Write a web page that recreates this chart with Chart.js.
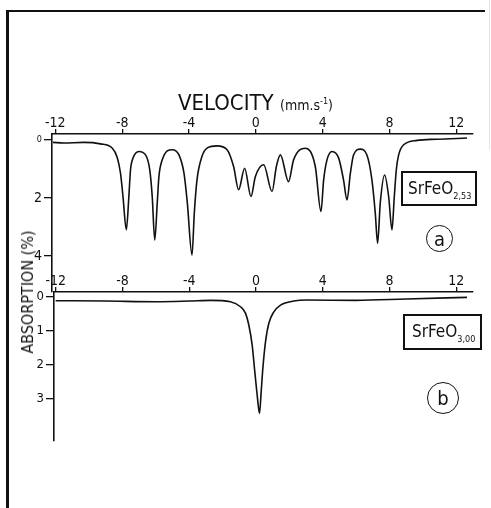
<!DOCTYPE html>
<html>
<head>
<meta charset="utf-8">
<script src="https://cdn.jsdelivr.net/npm/chart.js@4.4.1/dist/chart.umd.min.js"></script>
<style>
  body { margin: 0; background: #fff; }
  #page { position: relative; width: 491px; height: 508px; overflow: hidden; font-family: 'DejaVu Sans Condensed', 'DejaVu Sans', sans-serif; color: #111; }
  .abs { position: absolute; }
  #frame { left: 6px; top: 10px; width: 476px; height: 510px; border-left: 3px solid #111; border-top: 2.5px solid #111; }
  #edge { left: 489px; top: 0; width: 1px; height: 150px; background: #e4e4e4; }
  #xTitle { left: 178px; top: 86px; white-space: nowrap; font-size: 22px; line-height: 30px; }
  #xTitle small { font-size: 14px; }
  #xTitle sup { font-size: 9px; }
  #yTitle { left: 28px; top: 292px; transform: translate(-50%, -50%) rotate(-90deg); white-space: nowrap; font-size: 16px; line-height: 1; }
  .box { border: 2px solid #111; box-sizing: border-box; font-size: 17px; white-space: nowrap; line-height: 1; }
  .box span { position: absolute; left: 5px; top: 7px; }
  .box sub { font-size: 9px; vertical-align: -5px; line-height: 0; }
  .circle { border: 1.8px solid #111; border-radius: 50%; box-sizing: border-box; display: flex; align-items: center; justify-content: center; font-size: 20px; line-height: 1; }
</style>
</head>
<body>
<div id="page">
  <div id="frame" class="abs"></div>
  <div id="edge" class="abs"></div>
  <canvas id="chartA" class="abs" width="491" height="300" style="left:0;top:0"></canvas>
  <canvas id="chartB" class="abs" width="491" height="258" style="left:0;top:250px"></canvas>
  <div id="xTitle" class="abs">VELOCITY <small>(mm.s<sup>-1</sup>)</small></div>
  <div id="yTitle" class="abs">ABSORPTION (%)</div>
  <div class="abs box" style="left:401px;top:171px;width:76px;height:35px"><span>SrFeO<sub>2,53</sub></span></div>
  <div class="abs circle" style="left:426px;top:225px;width:27px;height:27px">a</div>
  <div class="abs box" style="left:403px;top:314px;width:79px;height:36px"><span style="left:7px">SrFeO<sub>3,00</sub></span></div>
  <div class="abs circle" style="left:427px;top:382px;width:32px;height:32px">b</div>
</div>
<script>
// velocity ticks shared by both spectra
const velocityTicks = [-12, -8, -4, 0, 4, 8, 12];
const absorptionTicksA = [0, 2, 4];
const absorptionTicksB = [0, 1, 2, 3];

// (a) SrFeO2.53
const velocityA = [-12.14, -11.5, -10.3, -9.3, -8.6, -8.3, -8.1, -7.95, -7.75, -7.6, -7.5, -7.35, -7.0, -6.6,
    -6.35, -6.2, -6.05, -5.9, -5.8, -5.6, -5.0, -4.6, -4.3, -4.1, -3.82, -3.68, -3.52, -3.22, -2.9, -2.32,
    -1.72, -1.33, -1.03, -0.67, -0.29, -0.03, 0.47, 0.97, 1.23, 1.47, 1.96, 2.26, 2.96, 3.56, 3.9, 4.06,
    4.26, 4.56, 4.96, 5.25, 5.46, 5.66, 5.85, 6.25, 6.65, 6.95, 7.15, 7.29, 7.45, 7.71, 7.95, 8.15, 8.29,
    8.41, 8.55, 8.85, 9.65, 10.84, 12.64];
const absorptionA = [0.09, 0.11, 0.09, 0.14, 0.28, 0.60, 1.15, 1.96, 3.10, 1.96, 1.03, 0.63, 0.40, 0.52,
    1.03, 1.96, 3.45, 2.17, 1.27, 0.69, 0.34, 0.52, 1.15, 2.17, 3.97, 2.50, 1.38, 0.57, 0.28, 0.21,
    0.34, 0.92, 1.72, 0.98, 1.95, 1.27, 0.86, 1.78, 0.92, 0.52, 1.44, 0.69, 0.29, 0.92, 2.47, 1.38,
    0.69, 0.40, 0.63, 1.38, 2.07, 1.15, 0.52, 0.32, 0.52, 1.38, 2.52, 3.56, 2.17, 1.21, 1.95, 3.10, 1.95,
    1.03, 0.52, 0.17, 0.02, -0.02, -0.06];

// (b) SrFeO3.00
const velocityB = [-12.0, -9.0, -6.0, -4.0, -2.72, -1.53, -0.93, -0.63, -0.43, -0.23, -0.07, 0.07, 0.21,
    0.31, 0.41, 0.57, 0.77, 1.07, 1.47, 2.26, 3.06, 6.0, 9.0, 12.64];
const absorptionB = [0.11, 0.12, 0.14, 0.12, 0.10, 0.14, 0.29, 0.48, 0.83, 1.42, 2.22, 2.90, 3.45,
    2.82, 2.12, 1.33, 0.78, 0.44, 0.24, 0.12, 0.09, 0.10, 0.06, 0.01];

const ink = '#111';
const fontFamily = "'DejaVu Sans Condensed', 'DejaVu Sans', sans-serif";

function toPoints(xs, ys) {
    return xs.map((x, i) => ({ x: x, y: ys[i] }));
}

function fixedTicks(values) {
    return scale => { scale.ticks = values.map(v => ({ value: v })); };
}

function makeSpectrum(canvasId, points, opts) {
    return new Chart(document.getElementById(canvasId), {
        type: 'line',
        data: {
            datasets: [{
                data: points,
                borderColor: ink,
                borderWidth: 1.6,
                pointRadius: 0,
                cubicInterpolationMode: 'monotone',
                fill: false
            }]
        },
        options: {
            responsive: false,
            animation: false,
            layout: { padding: opts.padding },
            plugins: { legend: { display: false }, tooltip: { enabled: false } },
            scales: {
                x: {
                    type: 'linear',
                    position: 'top',
                    min: opts.xMin,
                    max: 13.0,
                    afterBuildTicks: fixedTicks(velocityTicks),
                    afterFit: scale => { scale.height = 30; },
                    grid: { drawOnChartArea: false, color: ink, lineWidth: 1.3, tickLength: 5 },
                    border: { color: ink, width: 1.6 },
                    ticks: { color: ink, padding: -3, maxRotation: 0, font: { family: fontFamily, size: 14 } }
                },
                y: {
                    type: 'linear',
                    reverse: true,
                    min: opts.yMin,
                    max: opts.yMax,
                    afterBuildTicks: fixedTicks(opts.yTicks),
                    afterFit: scale => { scale.width = opts.yWidth; },
                    grid: { drawOnChartArea: false, color: ink, lineWidth: 1.3, tickLength: 8 },
                    border: { color: ink, width: 1.6 },
                    ticks: { color: ink, padding: 2, font: opts.yFont }
                }
            }
        }
    });
}

makeSpectrum('chartA', toPoints(velocityA, absorptionA), {
    padding: { left: 0, top: 104, right: 18, bottom: 8 },
    xMin: -12.2,
    yMin: -0.2,
    yMax: 5.24,
    yTicks: absorptionTicksA,
    yWidth: 52,
    yFont: ctx => ({ family: fontFamily, size: ctx.tick && ctx.tick.value === 0 ? 9 : 14 })
});

makeSpectrum('chartB', toPoints(velocityB, absorptionB), {
    padding: { left: 0, top: 12, right: 18, bottom: 67 },
    xMin: -12.1,
    yMin: -0.148,
    yMax: 4.27,
    yTicks: absorptionTicksB,
    yWidth: 54,
    yFont: { family: fontFamily, size: 13 }
});
</script>
</body>
</html>
